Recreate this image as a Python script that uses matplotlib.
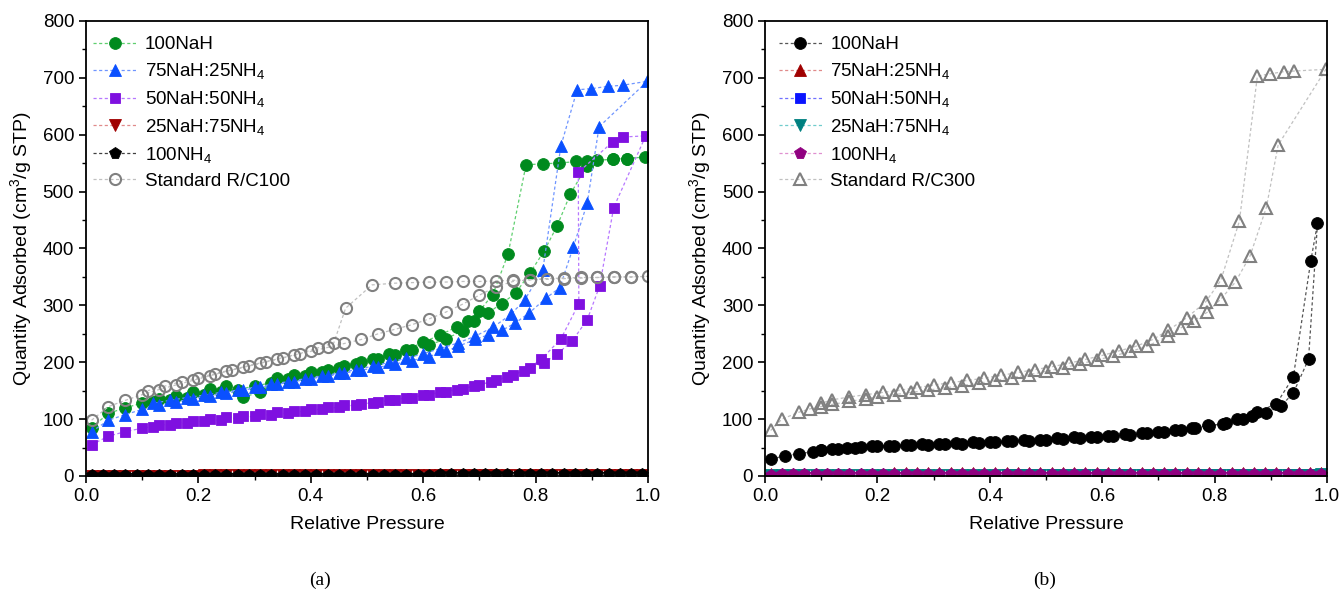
import numpy as np
import matplotlib
matplotlib.use("Agg")
import matplotlib.pyplot as plt
from matplotlib.ticker import MultipleLocator

plt.rcParams['font.family'] = ['Liberation Sans', 'DejaVu Sans']
plt.rcParams['mathtext.fontset'] = 'custom'
plt.rcParams['mathtext.rm'] = 'Liberation Sans'
plt.rcParams['mathtext.it'] = 'Liberation Sans:italic'
plt.rcParams['font.size'] = 13

# ---------------- panel (a) data: adsorption then desorption ----------------
a_nah_p = [0.01, 0.04, 0.07, 0.10, 0.13, 0.16, 0.19, 0.22, 0.25, 0.28, 0.31, 0.34, 0.37,
           0.40, 0.43, 0.46, 0.49, 0.52, 0.55, 0.58, 0.61, 0.64, 0.67, 0.69, 0.715, 0.74,
           0.765, 0.79, 0.815, 0.838, 0.862, 0.891, 0.91, 0.938, 0.963, 0.995,
           0.963, 0.938, 0.892, 0.872, 0.842, 0.813, 0.783, 0.751, 0.724, 0.70, 0.68,
           0.66, 0.63, 0.60, 0.57, 0.54, 0.51, 0.48, 0.45, 0.42, 0.39, 0.36, 0.33, 0.30,
           0.27, 0.24, 0.21, 0.18, 0.15, 0.12]
a_nah_q = [85, 110, 120, 128, 135, 141, 148, 153, 158, 139, 147, 172, 177,
           182, 187, 193, 200, 206, 213, 221, 230, 241, 255, 272, 287, 303,
           322, 357, 395, 439, 496, 545, 555, 557, 558, 561,
           558, 557, 554, 553, 550, 549, 547, 390, 319, 290, 272,
           262, 248, 235, 222, 214, 205, 197, 190, 183, 176, 170, 164, 158,
           152, 147, 142, 138, 134, 130]

a_75_p = [0.01, 0.04, 0.07, 0.10, 0.13, 0.16, 0.19, 0.22, 0.25, 0.28, 0.31, 0.34, 0.37,
          0.40, 0.43, 0.46, 0.49, 0.52, 0.55, 0.58, 0.61, 0.64, 0.662, 0.693, 0.715,
          0.74, 0.764, 0.789, 0.819, 0.843, 0.867, 0.892, 0.913, 0.999,
          0.955, 0.928, 0.899, 0.874, 0.845, 0.813, 0.781, 0.756, 0.725, 0.693, 0.662,
          0.63, 0.60, 0.57, 0.54, 0.51, 0.48, 0.45, 0.42, 0.39, 0.36, 0.33, 0.30, 0.27,
          0.24, 0.21, 0.18, 0.15, 0.12]
a_75_q = [78, 98, 108, 117, 124, 130, 136, 141, 146, 151, 156, 161, 166,
          171, 176, 181, 186, 191, 197, 203, 210, 219, 228, 240, 248,
          256, 269, 287, 313, 331, 402, 480, 614, 694,
          687, 685, 681, 679, 580, 363, 310, 284, 262, 246, 234,
          224, 215, 207, 200, 193, 187, 181, 176, 171, 166, 161, 156, 151,
          147, 142, 138, 133, 128]

a_50_p = [0.01, 0.04, 0.07, 0.10, 0.13, 0.16, 0.19, 0.22, 0.25, 0.28, 0.31, 0.34, 0.37,
          0.40, 0.43, 0.46, 0.49, 0.52, 0.55, 0.58, 0.61, 0.64, 0.67, 0.70, 0.73, 0.76,
          0.79, 0.815, 0.839, 0.865, 0.892, 0.914, 0.939, 0.996,
          0.955, 0.938, 0.876, 0.877, 0.845, 0.81, 0.78, 0.75, 0.72, 0.69, 0.66, 0.63,
          0.60, 0.57, 0.54, 0.51, 0.48, 0.45, 0.42, 0.39, 0.36, 0.33, 0.30, 0.27, 0.24,
          0.21, 0.18, 0.15, 0.12]
a_50_q = [55, 70, 78, 84, 89, 93, 97, 100, 103, 106, 109, 112, 115,
          118, 121, 124, 127, 130, 134, 138, 142, 147, 153, 160, 168, 178,
          190, 199, 215, 237, 275, 334, 472, 598,
          596, 588, 534, 303, 241, 205, 185, 174, 165, 158, 152, 147,
          142, 137, 133, 129, 125, 121, 118, 114, 111, 108, 105, 102, 99,
          96, 93, 90, 86]

a_std_p = [0.01, 0.04, 0.07, 0.10, 0.13, 0.16, 0.19, 0.22, 0.25, 0.28, 0.31, 0.34, 0.37,
           0.40, 0.43, 0.46, 0.49, 0.52, 0.55, 0.58, 0.61, 0.64, 0.67, 0.70, 0.73, 0.76,
           0.79, 0.82, 0.85, 0.88, 0.91, 0.94, 0.97, 1.0,
           0.97, 0.94, 0.91, 0.88, 0.85, 0.82, 0.79, 0.76, 0.73, 0.70, 0.67, 0.64, 0.61,
           0.58, 0.55, 0.509, 0.462, 0.441, 0.412, 0.38, 0.35, 0.32, 0.29, 0.26, 0.23,
           0.20, 0.17, 0.14, 0.11]
a_std_q = [98, 122, 133, 143, 152, 160, 168, 176, 184, 191, 198, 205, 212,
           219, 226, 233, 240, 250, 258, 266, 276, 288, 302, 318, 333, 342,
           345, 347, 348, 349, 349, 350, 350, 351,
           350, 350, 349, 348, 347, 346, 345, 344, 343, 342, 342, 341, 341,
           340, 339, 336, 295, 234, 225, 215, 208, 201, 194, 187, 180,
           173, 166, 158, 150]

p_flat = [0.01, 0.03, 0.05, 0.07, 0.09, 0.11, 0.13, 0.15, 0.17, 0.19, 0.21, 0.23, 0.25,
          0.27, 0.29, 0.31, 0.33, 0.35, 0.37, 0.39, 0.41, 0.43, 0.45, 0.47, 0.49, 0.51,
          0.53, 0.55, 0.57, 0.59, 0.61, 0.63, 0.65, 0.67, 0.69, 0.71, 0.73, 0.75, 0.77,
          0.79, 0.81, 0.83, 0.85, 0.87, 0.89, 0.91, 0.93, 0.95, 0.97, 0.99]
a_25_q = [0.5, 0.6, 0.6, 0.7, 0.7, 0.7, 0.8, 0.8, 0.8, 0.8, 0.9, 0.9, 0.9,
          0.9, 0.9, 1.0, 1.0, 1.0, 1.0, 1.0, 1.0, 1.0, 1.1, 1.1, 1.1, 1.1,
          1.1, 1.1, 1.1, 1.2, 1.2, 1.2, 1.2, 1.2, 1.2, 1.2, 1.3, 1.3, 1.3,
          1.3, 1.3, 1.3, 1.4, 1.4, 1.4, 1.4, 1.5, 1.5, 1.5, 1.6]
a_nh4_q = [1.6, 1.8, 1.9, 2.0, 2.0, 2.1, 2.1, 2.2, 2.2, 2.2, 2.3, 2.3, 2.3,
           2.3, 2.4, 2.4, 2.4, 2.4, 2.4, 2.5, 2.5, 2.5, 2.5, 2.5, 2.5, 2.6,
           2.6, 2.6, 2.6, 2.6, 2.6, 2.7, 2.7, 2.7, 2.7, 2.7, 2.7, 2.8, 2.8,
           2.8, 2.8, 2.8, 2.9, 2.9, 2.9, 2.9, 3.0, 3.0, 3.0, 3.1]

# ---------------- panel (b) data ----------------
b_nah_p = [0.01, 0.035, 0.06, 0.085, 0.10, 0.12, 0.145, 0.17, 0.20, 0.23, 0.26, 0.29,
           0.32, 0.35, 0.38, 0.41, 0.44, 0.47, 0.50, 0.53, 0.56, 0.59, 0.62, 0.65,
           0.68, 0.71, 0.74, 0.765, 0.789, 0.814, 0.839, 0.867, 0.892, 0.918, 0.94,
           0.967, 0.983,
           0.971, 0.94, 0.91, 0.875, 0.85, 0.82, 0.79, 0.76, 0.73, 0.70, 0.67, 0.64,
           0.61, 0.58, 0.55, 0.52, 0.49, 0.46, 0.43, 0.40, 0.37, 0.34, 0.31, 0.28,
           0.25, 0.22, 0.19, 0.16, 0.13, 0.10]
b_nah_q = [29, 36, 39, 43, 46, 48, 50, 51, 52, 53, 54, 55,
           56, 57, 58, 59, 61, 62, 63, 65, 67, 68, 70, 72,
           75, 78, 81, 85, 89, 91, 100, 105, 111, 123, 146,
           205, 444,
           378, 174, 127, 112, 100, 93, 88, 84, 81, 78, 75, 73,
           71, 69, 68, 66, 64, 63, 62, 60, 59, 58, 57, 56,
           55, 53, 52, 50, 48, 45]

b_std_p = [0.01, 0.03, 0.06, 0.08, 0.10, 0.12, 0.15, 0.18, 0.20, 0.23, 0.26, 0.29, 0.32,
           0.35, 0.38, 0.41, 0.44, 0.47, 0.50, 0.53, 0.56, 0.59, 0.62, 0.65, 0.68,
           0.717, 0.741, 0.763, 0.787, 0.811, 0.837, 0.863, 0.892, 0.913, 0.998,
           0.942, 0.924, 0.898, 0.876, 0.844, 0.811, 0.784, 0.75, 0.717, 0.69, 0.66,
           0.63, 0.60, 0.57, 0.54, 0.51, 0.48, 0.45, 0.42, 0.39, 0.36, 0.33, 0.30,
           0.27, 0.24, 0.21, 0.18, 0.15, 0.12, 0.10]
b_std_q = [80, 100, 112, 118, 122, 126, 131, 136, 139, 143, 147, 151, 155,
           159, 163, 168, 173, 178, 184, 190, 197, 204, 211, 219, 228,
           246, 261, 273, 288, 311, 341, 387, 472, 582, 715,
           712, 711, 707, 703, 448, 344, 306, 278, 256, 240, 228,
           220, 212, 205, 198, 192, 187, 182, 177, 172, 168, 164, 160,
           155, 151, 147, 143, 139, 134, 128]

b_75_q = [3.5, 3.8, 3.9, 4.0, 4.1, 4.1, 4.2, 4.2, 4.3, 4.3, 4.3, 4.4, 4.4,
          4.4, 4.5, 4.5, 4.5, 4.5, 4.6, 4.6, 4.6, 4.6, 4.7, 4.7, 4.7, 4.7,
          4.8, 4.8, 4.8, 4.8, 4.9, 4.9, 4.9, 4.9, 5.0, 5.0, 5.0, 5.0, 5.1,
          5.1, 5.1, 5.2, 5.2, 5.2, 5.3, 5.3, 5.4, 5.5, 5.6, 5.8]
b_50_q = [1.8, 2.0, 2.1, 2.2, 2.2, 2.3, 2.3, 2.3, 2.4, 2.4, 2.4, 2.4, 2.5,
          2.5, 2.5, 2.5, 2.6, 2.6, 2.6, 2.6, 2.6, 2.7, 2.7, 2.7, 2.7, 2.7,
          2.8, 2.8, 2.8, 2.8, 2.8, 2.9, 2.9, 2.9, 2.9, 3.0, 3.0, 3.0, 3.0,
          3.1, 3.1, 3.1, 3.2, 3.2, 3.2, 3.3, 3.3, 3.4, 3.5, 3.6]
b_25_q = [1.2, 1.4, 1.5, 1.5, 1.6, 1.6, 1.6, 1.7, 1.7, 1.7, 1.7, 1.8, 1.8,
          1.8, 1.8, 1.8, 1.9, 1.9, 1.9, 1.9, 1.9, 1.9, 2.0, 2.0, 2.0, 2.0,
          2.0, 2.0, 2.1, 2.1, 2.1, 2.1, 2.1, 2.2, 2.2, 2.2, 2.2, 2.2, 2.3,
          2.3, 2.3, 2.3, 2.4, 2.4, 2.4, 2.5, 2.5, 2.6, 2.6, 2.7]
b_nh4_q = [2.5, 2.7, 2.8, 2.9, 2.9, 3.0, 3.0, 3.0, 3.1, 3.1, 3.1, 3.1, 3.2,
           3.2, 3.2, 3.2, 3.3, 3.3, 3.3, 3.3, 3.3, 3.4, 3.4, 3.4, 3.4, 3.4,
           3.5, 3.5, 3.5, 3.5, 3.5, 3.6, 3.6, 3.6, 3.6, 3.7, 3.7, 3.7, 3.7,
           3.8, 3.8, 3.8, 3.9, 3.9, 3.9, 4.0, 4.0, 4.1, 4.2, 4.3]

fig = plt.figure(figsize=(13.41, 5.91), dpi=100)
ax1 = fig.add_axes([0.0641, 0.1946, 0.4191, 0.7699])
ax2 = fig.add_axes([0.5705, 0.1946, 0.4191, 0.7699])

ls = (0, (2.5, 2))


def series(ax, p, q, label, marker, mcol, lcol, ms=7.5, hollow=False):
    kw = dict(linestyle=ls, linewidth=0.9, color=lcol, marker=marker, markersize=ms,
              markeredgecolor=mcol, label=label)
    if hollow:
        kw.update(markerfacecolor='none', markeredgewidth=1.5)
    else:
        kw.update(markerfacecolor=mcol, markeredgewidth=0.6)
    ax.plot(p, q, **kw)


# panel (a)
series(ax1, a_nah_p, a_nah_q, '100NaH', 'o', '#008a1e', '#5fcf6f', ms=8.5)
series(ax1, a_75_p, a_75_q, '75NaH:25NH$_4$', '^', '#0a50ff', '#6f95ff', ms=9)
series(ax1, a_50_p, a_50_q, '50NaH:50NH$_4$', 's', '#7f10e0', '#b777ff', ms=7)
series(ax1, p_flat, a_25_q, '25NaH:75NH$_4$', 'v', '#a00000', '#e08a8a', ms=8.5)
series(ax1, p_flat, a_nh4_q, '100NH$_4$', 'p', '#000000', '#404040', ms=8.5)
series(ax1, a_std_p, a_std_q, 'Standard R/C100', 'o', '#808080', '#c0c0c0', ms=8, hollow=True)

# panel (b)
series(ax2, b_nah_p, b_nah_q, '100NaH', 'o', '#000000', '#555555', ms=8.5)
series(ax2, p_flat, b_75_q, '75NaH:25NH$_4$', '^', '#a00000', '#e08a8a', ms=8.5)
series(ax2, p_flat, b_50_q, '50NaH:50NH$_4$', 's', '#0a14ff', '#7070ff', ms=7)
series(ax2, p_flat, b_25_q, '25NaH:75NH$_4$', 'v', '#008080', '#70cccc', ms=8.5)
series(ax2, p_flat, b_nh4_q, '100NH$_4$', 'p', '#900080', '#e090d0', ms=8.5)
series(ax2, b_std_p, b_std_q, 'Standard R/C300', '^', '#808080', '#c0c0c0', ms=9, hollow=True)

for ax, dx in ((ax1, 0.0), (ax2, 0.011)):
    ax.set_xlim(0, 1.0)
    ax.set_ylim(0, 800)
    ax.xaxis.set_major_locator(MultipleLocator(0.2))
    ax.xaxis.set_minor_locator(MultipleLocator(0.1))
    ax.yaxis.set_major_locator(MultipleLocator(100))
    ax.yaxis.set_minor_locator(MultipleLocator(50))
    ax.xaxis.set_major_formatter(matplotlib.ticker.FormatStrFormatter('%.1f'))
    ax.tick_params(which='major', direction='out', length=5, width=1.2, labelsize=13.5)
    ax.tick_params(which='minor', direction='out', length=3, width=1.0)
    for s in ax.spines.values():
        s.set_linewidth(1.3)
    ax.set_xlabel('Relative Pressure', fontsize=14, labelpad=8)
    ax.set_ylabel('Quantity Adsorbed (cm$^3$/g STP)', fontsize=14, labelpad=6)
    ax.legend(loc='upper left', bbox_to_anchor=(dx, 0.983), frameon=False, fontsize=13.5,
              handlelength=2.3, handletextpad=0.45, labelspacing=0.42, borderaxespad=0)

fig.text(0.2386, 0.01, '(a)', fontsize=14, family='Liberation Serif', ha='center')
fig.text(0.779, 0.01, '(b)', fontsize=14, family='Liberation Serif', ha='center')

fig.savefig('out.png', dpi=100)
